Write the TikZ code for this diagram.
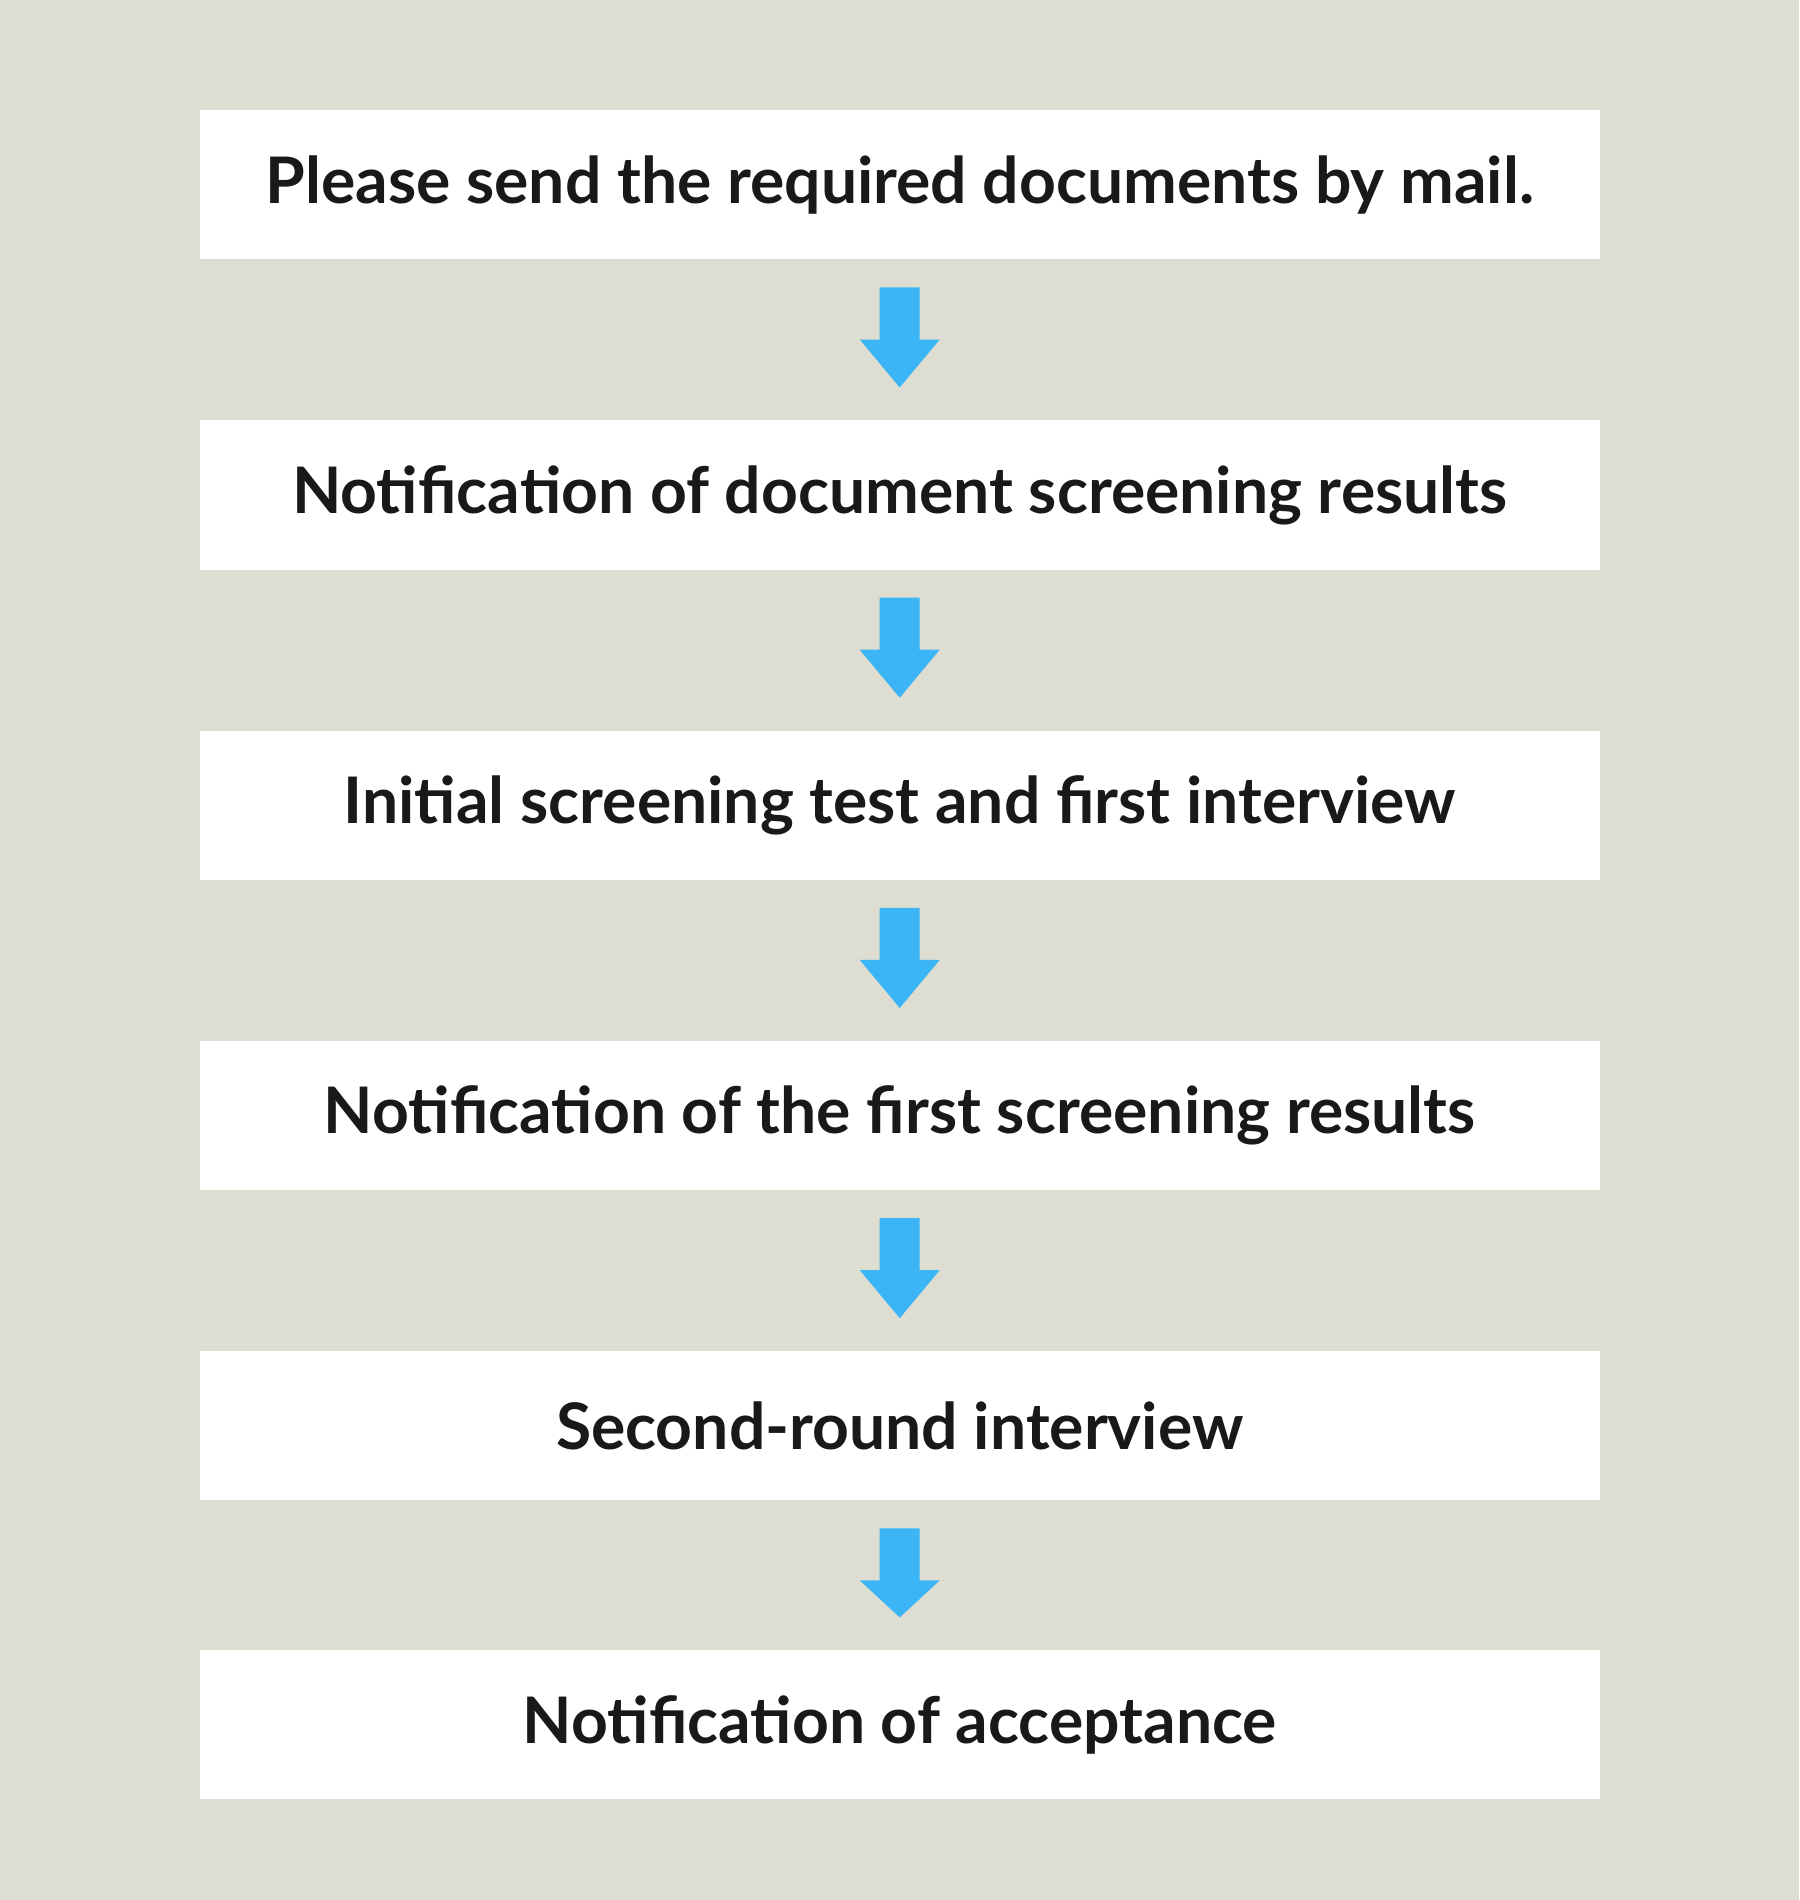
\documentclass[tikz,border=0pt]{standalone}
\usepackage{fontspec}
\setmainfont{Lato}[BoldFont={* Bold}]
\usetikzlibrary{calc}
\definecolor{bg}{HTML}{DDDDD2}
\definecolor{arr}{HTML}{3BB5F5}
\tikzset{x=1pt,y=-1pt,
 stepbox/.style={fill=white,minimum width=1155pt,minimum height=123pt,inner sep=0pt,
   font=\fontsize{53}{60}\selectfont\bfseries,text=black!90}}
\newcommand{\flowarrow}[2]{%
 \fill[arr] ($(#1.south)+(-16.5,23)$) -- ($(#1.south)+(16.5,23)$) -- ($(#1.south)+(16.5,66)$)
  -- ($(#1.south)+(33,66)$) -- ($(#2.north)+(0,-27)$) -- ($(#1.south)+(-33,66)$)
  -- ($(#1.south)+(-16.5,66)$) -- cycle;}
\begin{document}
\begin{tikzpicture}
\fill[bg] (0,0) rectangle (1485,1568);
\useasboundingbox (0,0) rectangle (1485,1568);
\node[stepbox] (a) at (742.5,152.5) {Please send the required documents by mail.};
\node[stepbox] (b) at (742.5,408.5) {Notification of document screening results};
\node[stepbox] (c) at (742.5,664.5) {Initial screening test and first interview};
\node[stepbox] (d) at (742.5,920.5) {Notification of the first screening results};
\node[stepbox] (e) at (742.5,1176.5) {Second-round interview};
\node[stepbox] (f) at (742.5,1423.5) {Notification of acceptance};
\flowarrow{a}{b}
\flowarrow{b}{c}
\flowarrow{c}{d}
\flowarrow{d}{e}
\flowarrow{e}{f}
\end{tikzpicture}
\end{document}
